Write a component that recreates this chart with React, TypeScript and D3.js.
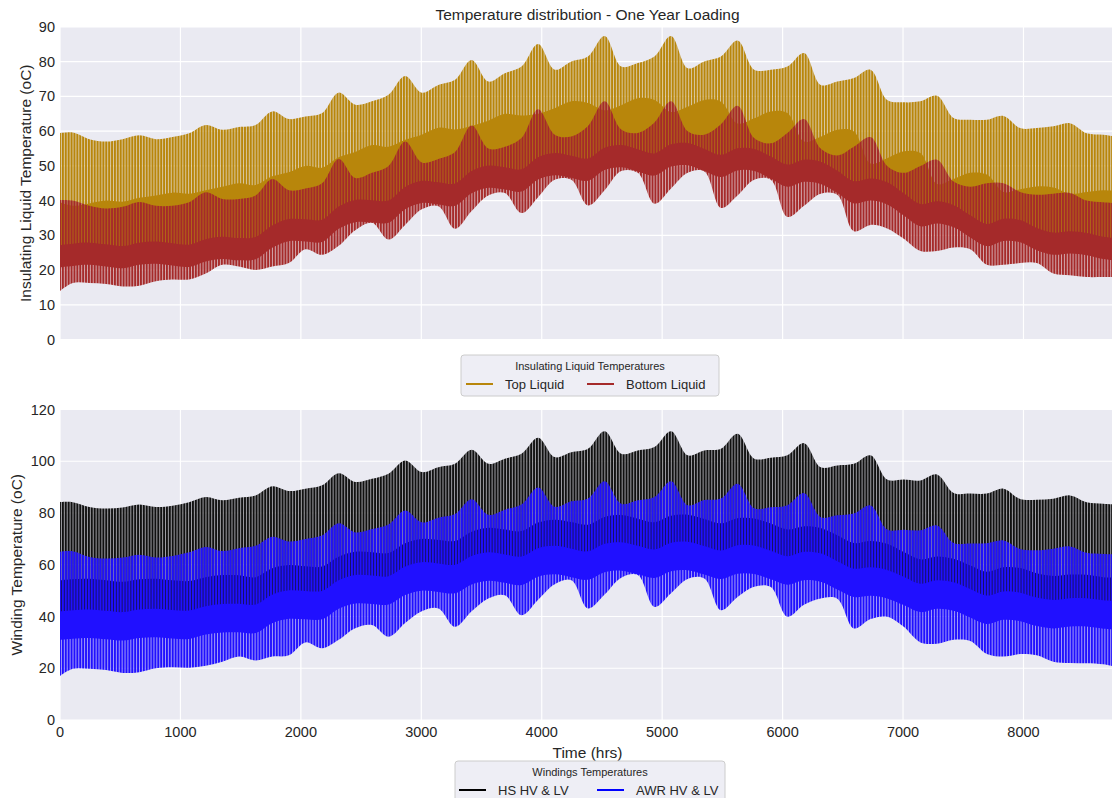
import React from "react";
import * as d3 from "d3";

// Knot hours shared by the envelope series (roughly four knots per ~23-day swing)
const HOURS = [
  0, 106, 244, 382, 520, 658, 796, 934, 1072, 1210, 1348, 1486, 1624, 1762, 1900, 2038, 2176,
  2314, 2452, 2590, 2728, 2866, 3004, 3142, 3280, 3418, 3556, 3694, 3832, 3970, 4108, 4246,
  4384, 4522, 4660, 4798, 4936, 5074, 5212, 5350, 5488, 5626, 5764, 5902, 6040, 6178, 6316,
  6454, 6592, 6730, 6868, 7006, 7144, 7282, 7420, 7558, 7696, 7834, 7972, 8110, 8248, 8386,
  8524, 8662, 8760,
];
// Coarser knots for the lower limits that sit underneath other bands
const COARSE_HOURS = [0, 106, 658, 1210, 1762, 2314, 2866, 3418, 3970, 4522, 5074, 5626, 6178, 6730, 7282, 7834, 8386, 8760];

// ---- Insulating liquid (oC) ----
const TOP_LIQUID_MAX = [
  59.4, 59.6, 57.7, 57.0, 57.7, 58.8, 57.7, 58.3, 59.4, 61.8, 60.4, 61.2, 61.8, 65.7, 63.5, 64.2, 65.2,
  71.1, 67.6, 68.6, 70.5, 75.9, 71.1, 73.3, 74.8, 80.5, 74.3, 76.7, 78.6, 85.1, 77.7, 80.1, 81.5,
  87.4, 78.6, 79.6, 81.5, 87.4, 78.1, 80.1, 81.5, 86.1, 77.7, 77.7, 78.6, 82.5, 73.3, 74.3, 75.3,
  77.7, 69.0, 68.3, 68.6, 70.2, 63.8, 63.3, 63.3, 64.4, 60.9, 60.9, 61.4, 62.3, 59.4, 59.0, 58.5,
];
const TOP_LIQUID_DENSE = [
  39.5, 38.5, 39.2, 40.0, 39.7, 40.8, 41.5, 42.3, 42.0, 43.0, 44.0, 45.0, 44.5, 47.0, 48.2, 50.0, 49.5,
  52.5, 54.0, 56.0, 55.5, 57.5, 59.0, 61.0, 60.5, 61.5, 63.0, 65.0, 64.5, 65.0, 66.6, 68.6, 68.1,
  66.0, 67.5, 69.5, 69.0, 65.5, 67.0, 69.0, 68.5, 62.2, 63.7, 65.7, 65.2, 57.0, 58.4, 60.4, 59.9,
  50.7, 52.2, 54.2, 53.7, 44.8, 46.2, 48.0, 47.5, 42.5, 43.3, 44.1, 43.8, 42.0, 42.5, 43.0, 42.8,
];
const TOP_LIQUID_MIN = [25, 25, 25.5, 26, 30, 35.5, 41, 45.5, 49.5, 52.5, 53.5, 52.5, 49, 43.5, 37, 32, 28.5, 27];

const BOTTOM_LIQUID_MAX = [
  40.2, 40.0, 38.5, 37.7, 38.2, 39.6, 38.5, 38.5, 39.5, 42.4, 40.5, 40.5, 41.5, 46.2, 43.0, 43.5, 45.0,
  52.0, 46.5, 48.0, 50.0, 57.0, 51.0, 52.0, 54.0, 61.6, 55.0, 55.5, 58.0, 66.3, 59.0, 58.5, 61.5,
  68.6, 60.5, 59.5, 62.5, 68.6, 60.0, 59.0, 62.0, 67.3, 58.0, 56.5, 59.5, 63.5, 55.0, 53.0, 55.5,
  58.3, 50.0, 48.0, 50.0, 51.8, 45.5, 44.0, 45.0, 45.0, 42.5, 41.7, 42.0, 42.2, 40.0, 39.5, 39.3,
];
const BOTTOM_LIQUID_DENSE_HI = [
  27.2, 27.6, 27.9, 27.4, 26.9, 27.9, 28.2, 27.7, 27.3, 28.9, 29.6, 29.2, 29.5, 32.8, 34.7, 34.6, 34.5,
  38.3, 40.2, 40.1, 40.0, 43.9, 45.7, 45.3, 44.9, 48.5, 50.1, 49.6, 49.0, 52.5, 53.7, 52.9, 52.1,
  55.2, 56.0, 54.8, 53.6, 56.2, 56.6, 54.9, 53.2, 55.1, 54.9, 52.7, 50.4, 51.8, 51.2, 48.6, 45.6,
  46.4, 45.3, 42.1, 39.0, 39.8, 38.7, 35.8, 33.3, 34.8, 34.4, 32.1, 30.8, 31.2, 30.7, 29.6, 29.2,
];
const BOTTOM_LIQUID_DENSE_LO = [
  20.8, 21.2, 21.5, 21.0, 20.5, 21.5, 21.8, 21.3, 20.9, 22.5, 23.2, 22.8, 23.1, 26.4, 28.3, 28.2, 28.1,
  31.9, 33.8, 33.7, 33.6, 37.5, 39.3, 38.9, 38.5, 42.1, 43.7, 43.2, 42.6, 46.1, 47.3, 46.5, 45.7,
  48.8, 49.6, 48.4, 47.2, 49.8, 50.2, 48.5, 46.8, 48.7, 48.5, 46.3, 44.0, 45.4, 44.8, 42.2, 39.2,
  40.0, 38.9, 35.7, 32.6, 33.4, 32.3, 29.4, 26.9, 28.4, 28.0, 25.7, 24.4, 24.8, 24.3, 23.2, 22.8,
];
const BOTTOM_LIQUID_MIN = [
  14.0, 16.3, 16.3, 16.0, 15.3, 15.5, 16.8, 17.3, 17.3, 19.0, 21.5, 21.0, 20.0, 21.0, 22.0, 26.0, 24.4,
  27.0, 31.5, 33.6, 28.8, 33.0, 37.5, 38.4, 31.9, 37.0, 41.5, 42.2, 36.4, 41.0, 46.0, 46.0, 38.6,
  43.0, 48.5, 48.0, 39.1, 43.5, 48.0, 48.4, 37.9, 41.5, 46.0, 46.0, 35.3, 38.5, 42.0, 41.7, 31.2,
  33.0, 32.0, 29.0, 25.5, 25.5, 26.5, 26.0, 21.5, 21.5, 22.0, 22.0, 19.0, 18.5, 18.0, 18.0, 18.0,
];

// ---- Windings (oC) ----
const HS_MAX = [
  84.2, 84.2, 82.3, 81.7, 82.1, 83.3, 82.3, 82.8, 84.2, 86.2, 84.9, 85.9, 86.8, 90.3, 88.5, 89.4, 90.7,
  95.4, 92.0, 93.2, 95.2, 100.3, 95.8, 97.7, 99.0, 104.4, 99.0, 101.0, 102.9, 109.1, 101.6, 103.5, 104.8,
  111.6, 102.9, 104.2, 105.5, 111.6, 102.3, 104.2, 104.8, 110.6, 101.0, 101.4, 102.3, 107.0, 97.7, 98.4, 99.0,
  102.3, 92.9, 92.9, 92.6, 94.9, 87.7, 87.5, 87.5, 89.4, 85.4, 85.1, 85.5, 86.8, 84.2, 83.6, 83.3,
];
const HS_DENSE = [
  54.0, 54.4, 54.6, 54.0, 53.4, 54.4, 54.6, 54.0, 53.7, 55.2, 56.0, 55.9, 55.2, 58.6, 59.9, 59.4, 59.3,
  63.1, 65.0, 64.8, 64.5, 68.3, 70.0, 69.6, 69.2, 72.8, 74.3, 73.6, 73.0, 76.3, 77.4, 76.5, 75.5,
  78.5, 79.2, 77.8, 76.4, 78.9, 79.3, 77.7, 76.0, 78.0, 77.9, 75.9, 73.6, 74.9, 74.2, 71.4, 68.4,
  69.2, 68.1, 64.9, 62.1, 63.2, 62.3, 59.7, 57.3, 59.0, 58.7, 56.7, 55.7, 56.2, 56.1, 55.2, 55.0,
];
const HS_MIN = [36.5, 37, 37, 38.5, 43, 48.5, 54, 58, 61, 62.5, 63, 62, 59.5, 53.5, 48.5, 44, 41.5, 40.5];

const AWR_MAX = [
  65.0, 65.2, 63.0, 62.4, 62.8, 63.9, 62.8, 63.4, 64.8, 66.9, 65.3, 66.4, 67.3, 70.8, 69.0, 70.0, 71.3,
  76.0, 72.5, 73.8, 75.6, 81.0, 76.4, 78.2, 79.6, 85.3, 79.3, 81.3, 83.3, 89.9, 82.4, 84.5, 85.6,
  92.3, 83.6, 84.9, 86.2, 92.3, 83.0, 85.0, 85.6, 91.3, 81.8, 82.2, 83.0, 87.7, 78.4, 79.1, 79.8,
  82.9, 73.6, 73.5, 73.3, 75.2, 68.4, 68.2, 68.3, 69.4, 66.1, 65.6, 66.2, 67.1, 64.6, 64.2, 64.0,
];
const AWR_DENSE_HI = [
  42.0, 42.4, 42.7, 42.2, 41.7, 42.7, 43.0, 42.5, 42.3, 44.0, 44.8, 44.9, 44.6, 48.4, 50.1, 49.9, 49.9,
  54.0, 56.0, 55.8, 55.6, 59.3, 61.0, 60.5, 60.0, 63.4, 64.8, 64.0, 63.2, 66.4, 67.3, 66.2, 65.2,
  68.1, 68.7, 67.3, 65.9, 68.5, 68.9, 67.2, 65.5, 67.5, 67.4, 65.4, 63.3, 65.0, 64.4, 61.4, 58.5,
  59.0, 58.0, 55.4, 52.7, 54.0, 53.2, 50.6, 48.1, 49.7, 49.2, 47.3, 46.4, 47.1, 47.1, 46.3, 46.0,
];
const AWR_DENSE_LO = [
  31.0, 31.4, 31.7, 31.2, 30.7, 31.7, 32.0, 31.5, 31.3, 33.0, 33.8, 33.9, 33.6, 37.4, 39.1, 38.9, 38.9,
  43.0, 45.0, 44.8, 44.6, 48.3, 50.0, 49.5, 49.0, 52.4, 53.8, 53.0, 52.2, 55.4, 56.3, 55.2, 54.2,
  57.1, 57.7, 56.3, 54.9, 57.5, 57.9, 56.2, 54.5, 56.5, 56.4, 54.4, 52.3, 54.0, 53.4, 50.4, 47.5,
  48.0, 47.0, 44.4, 41.7, 43.0, 42.2, 39.6, 37.1, 38.7, 38.2, 36.3, 35.4, 36.1, 36.1, 35.3, 35.0,
];
const AWR_MIN = [
  17.0, 19.8, 19.8, 19.3, 18.2, 18.5, 20.0, 20.4, 20.2, 21.0, 22.5, 24.5, 23.0, 24.5, 25.0, 30.0, 27.7,
  31.0, 35.5, 36.7, 32.2, 37.5, 42.0, 43.1, 36.0, 42.0, 47.0, 48.2, 40.5, 46.5, 52.5, 54.0, 43.1,
  48.5, 55.0, 56.0, 43.7, 49.0, 54.5, 54.7, 42.4, 47.5, 51.5, 51.4, 39.9, 44.5, 47.0, 46.9, 35.4,
  39.0, 39.9, 36.0, 30.0, 29.5, 31.0, 30.5, 25.5, 24.5, 25.5, 25.0, 22.5, 22.0, 21.9, 21.5, 20.6,
];

const X_TICKS = [0, 1000, 2000, 3000, 4000, 5000, 6000, 7000, 8000];
const Y_TICKS_LIQUID = [0, 10, 20, 30, 40, 50, 60, 70, 80, 90];
const Y_TICKS_WINDING = [0, 20, 40, 60, 80, 100, 120];
const HOURS_PER_YEAR = 8760;
const HOURS_PER_DAY = 24;

const W = 1112;
const H = 798;
const FONT = "'Liberation Sans', Arial, Helvetica, sans-serif";
const INK = "#262626";
const PANEL_BG = "#eaeaf2";
const GOLD = "#b8860b";
const BROWN = "#a52a2a";
const BLACK = "#111111";
const BLUE = "#2010ff";

const TOP = { left: 60, right: 1115, top: 27, bottom: 339.5 };
const BOT = { left: 60, right: 1115, top: 409.5, bottom: 720 };

const x = d3.scaleLinear().domain([0, HOURS_PER_YEAR]).range([TOP.left, TOP.right]);
const yLiquid = d3.scaleLinear().domain([0, 90]).range([TOP.bottom, TOP.top]);
const yWinding = d3.scaleLinear().domain([0, 120]).range([BOT.bottom, BOT.top]);

const edgeLine = d3.line<[number, number]>().curve(d3.curveCatmullRom.alpha(0.5));

function pts(hours: number[], vals: number[], y: d3.ScaleLinear<number, number>): [number, number][] {
  return hours.map((h, i) => [x(h), y(vals[i])] as [number, number]);
}

// closed band between an upper and a lower envelope (each on its own knot grid)
function bandPath(
  hHi: number[], hi: number[], hLo: number[], lo: number[], y: d3.ScaleLinear<number, number>
): string {
  const upper = edgeLine(pts(hHi, hi, y)) as string;
  const lower = edgeLine(pts(hLo, lo, y).reverse()) as string;
  return upper + "L" + lower.slice(1) + "Z";
}

function Grid({ box, y, yTicks }: { box: typeof TOP; y: d3.ScaleLinear<number, number>; yTicks: number[] }) {
  return (
    <g>
      <rect x={box.left} y={box.top} width={box.right - box.left} height={box.bottom - box.top} fill={PANEL_BG} />
      {X_TICKS.map((t) => (
        <line key={"gx" + t} x1={x(t)} x2={x(t)} y1={box.top} y2={box.bottom} stroke="#ffffff" strokeWidth={1.2} />
      ))}
      {yTicks.map((t) => (
        <line key={"gy" + t} x1={box.left} x2={box.right} y1={y(t)} y2={y(t)} stroke="#ffffff" strokeWidth={1.2} />
      ))}
      {yTicks.map((t) => (
        <text key={"ty" + t} x={55} y={y(t) + 5} textAnchor="end" fontSize={14.5} fill={INK} fontFamily={FONT}>
          {t}
        </text>
      ))}
    </g>
  );
}

function LegendBox({
  x0, y0, w, h, title, items,
}: {
  x0: number; y0: number; w: number; h: number; title: string;
  items: { label: string; color: string; lx: number; tx: number }[];
}) {
  return (
    <g fontFamily={FONT}>
      <rect x={x0} y={y0} width={w} height={h} rx={3} fill={PANEL_BG} fillOpacity={0.8} stroke="#cccccc" strokeWidth={1} />
      <text x={x0 + w / 2} y={y0 + 15} textAnchor="middle" fontSize={11} fill={INK}>
        {title}
      </text>
      {items.map((it) => (
        <g key={it.label}>
          <line x1={it.lx} x2={it.lx + 27} y1={y0 + 29} y2={y0 + 29} stroke={it.color} strokeWidth={2} />
          <text x={it.tx} y={y0 + 33.5} fontSize={13} fill={INK}>
            {it.label}
          </text>
        </g>
      ))}
    </g>
  );
}

export default function App() {
  const days = d3.range(0, Math.floor(HOURS_PER_YEAR / HOURS_PER_DAY) + 1);

  return (
    <svg
      width={W}
      height={H}
      viewBox={`0 0 ${W} ${H}`}
      style={{ position: "absolute", left: 0, top: 0, background: "#ffffff" }}
    >
      <defs>
        <clipPath id="clip-liquid">
          <rect x={TOP.left} y={TOP.top} width={TOP.right - TOP.left} height={TOP.bottom - TOP.top} />
        </clipPath>
        <clipPath id="clip-winding">
          <rect x={BOT.left} y={BOT.top} width={BOT.right - BOT.left} height={BOT.bottom - BOT.top} />
        </clipPath>
        {/* thin gaps between the daily up/down strokes of the hourly traces */}
        <mask id="daily-gaps" maskUnits="userSpaceOnUse" x={0} y={0} width={W} height={H}>
          <rect x={0} y={0} width={W} height={H} fill="#ffffff" />
          {days.map((d) => (
            <line
              key={d}
              x1={x(d * HOURS_PER_DAY + 12)}
              x2={x(d * HOURS_PER_DAY + 12)}
              y1={0}
              y2={H}
              stroke="#000000"
              strokeWidth={0.65}
            />
          ))}
        </mask>
      </defs>

      <rect x={0} y={0} width={W} height={H} fill="#ffffff" />

      <text x={(TOP.left + TOP.right) / 2} y={20} textAnchor="middle" fontSize={15.5} fill={INK} fontFamily={FONT}>
        Temperature distribution - One Year Loading
      </text>

      {/* upper panel: insulating liquid */}
      <Grid box={TOP} y={yLiquid} yTicks={Y_TICKS_LIQUID} />
      <g clipPath="url(#clip-liquid)">
        <path d={bandPath(HOURS, TOP_LIQUID_MAX, COARSE_HOURS, TOP_LIQUID_MIN, yLiquid)} fill={GOLD} mask="url(#daily-gaps)" />
        <path d={bandPath(HOURS, TOP_LIQUID_DENSE, COARSE_HOURS, TOP_LIQUID_MIN, yLiquid)} fill={GOLD} />
        <path d={bandPath(HOURS, BOTTOM_LIQUID_MAX, HOURS, BOTTOM_LIQUID_MIN, yLiquid)} fill={BROWN} mask="url(#daily-gaps)" />
        <path d={bandPath(HOURS, BOTTOM_LIQUID_DENSE_HI, HOURS, BOTTOM_LIQUID_DENSE_LO, yLiquid)} fill={BROWN} />
      </g>
      <text
        transform={`translate(25.5,${(TOP.top + TOP.bottom) / 2}) rotate(-90)`}
        textAnchor="middle"
        fontSize={15.5}
        fill={INK}
        fontFamily={FONT}
        dy={5}
      >
        Insulating Liquid Temperature (oC)
      </text>

      <LegendBox
        x0={461}
        y0={355}
        w={258}
        h={41}
        title="Insulating Liquid Temperatures"
        items={[
          { label: "Top Liquid", color: GOLD, lx: 466, tx: 505 },
          { label: "Bottom Liquid", color: BROWN, lx: 587, tx: 626 },
        ]}
      />

      {/* lower panel: windings */}
      <Grid box={BOT} y={yWinding} yTicks={Y_TICKS_WINDING} />
      <g clipPath="url(#clip-winding)">
        <path d={bandPath(HOURS, HS_MAX, COARSE_HOURS, HS_MIN, yWinding)} fill={BLACK} mask="url(#daily-gaps)" />
        <path d={bandPath(HOURS, HS_DENSE, COARSE_HOURS, HS_MIN, yWinding)} fill={BLACK} />
        <path d={bandPath(HOURS, AWR_MAX, HOURS, AWR_MIN, yWinding)} fill={BLUE} mask="url(#daily-gaps)" />
        <path d={bandPath(HOURS, AWR_DENSE_HI, HOURS, AWR_DENSE_LO, yWinding)} fill={BLUE} />
      </g>
      <text
        transform={`translate(17,${(BOT.top + BOT.bottom) / 2}) rotate(-90)`}
        textAnchor="middle"
        fontSize={15.5}
        fill={INK}
        fontFamily={FONT}
        dy={5}
      >
        Winding Temperature (oC)
      </text>
      {X_TICKS.map((t) => (
        <text key={"tx" + t} x={x(t)} y={737} textAnchor="middle" fontSize={14.5} fill={INK} fontFamily={FONT}>
          {t}
        </text>
      ))}
      <text x={(BOT.left + BOT.right) / 2} y={758} textAnchor="middle" fontSize={15.5} fill={INK} fontFamily={FONT}>
        Time (hrs)
      </text>

      <LegendBox
        x0={455}
        y0={761}
        w={270}
        h={45}
        title="Windings Temperatures"
        items={[
          { label: "HS HV & LV", color: "#000000", lx: 459, tx: 498 },
          { label: "AWR HV & LV", color: "#0000ff", lx: 597, tx: 636 },
        ]}
      />
    </svg>
  );
}
